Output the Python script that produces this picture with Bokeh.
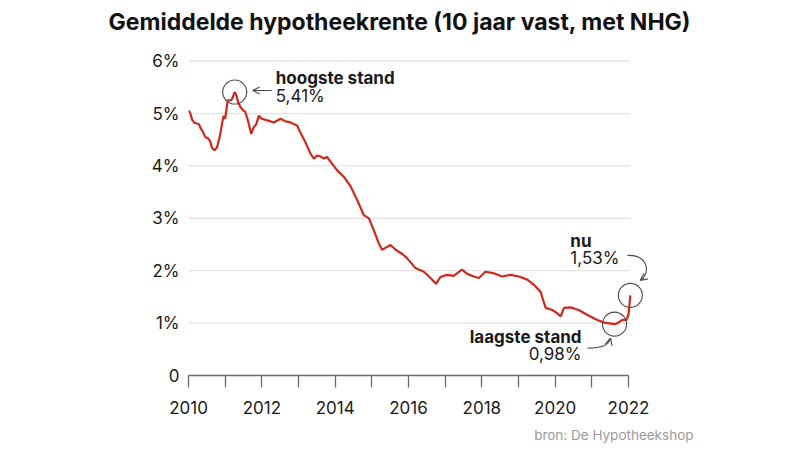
from bokeh.plotting import figure
from bokeh.models import FixedTicker, Title, Arrow, OpenHead
from bokeh.core.properties import value
from bokeh.embed import file_html
from bokeh.resources import INLINE

# ---------------- data ----------------
years = [2010.00, 2010.05, 2010.10, 2010.15, 2010.22, 2010.28, 2010.33, 2010.37, 2010.46, 2010.55,
         2010.60, 2010.65, 2010.72, 2010.78, 2010.85, 2010.92, 2010.96, 2011.00, 2011.07, 2011.15,
         2011.19, 2011.26, 2011.31, 2011.35, 2011.42, 2011.49, 2011.55, 2011.62, 2011.71, 2011.78,
         2011.85, 2011.92, 2012.00, 2012.15, 2012.33, 2012.51, 2012.65, 2012.78, 2012.96, 2013.05,
         2013.19, 2013.33, 2013.42, 2013.51, 2013.60, 2013.69, 2013.78, 2013.92, 2014.05, 2014.24,
         2014.42, 2014.60, 2014.78, 2014.92, 2015.05, 2015.19, 2015.28, 2015.38, 2015.51, 2015.65,
         2015.83, 2015.96, 2016.19, 2016.42, 2016.60, 2016.75, 2016.87, 2017.05, 2017.23, 2017.46,
         2017.60, 2017.78, 2017.92, 2018.10, 2018.33, 2018.55, 2018.78, 2019.01, 2019.24, 2019.42,
         2019.60, 2019.74, 2019.92, 2020.05, 2020.15, 2020.24, 2020.42, 2020.64, 2020.87, 2021.15,
         2021.33, 2021.62, 2021.70, 2021.83, 2021.94, 2022.00, 2022.05]
rates = [5.06, 5.00, 4.88, 4.83, 4.81, 4.80, 4.72, 4.68, 4.55, 4.52,
         4.45, 4.33, 4.30, 4.36, 4.55, 4.83, 4.96, 4.90, 5.25, 5.25,
         5.28, 5.41, 5.34, 5.22, 5.12, 5.06, 5.03, 4.87, 4.61, 4.74,
         4.80, 4.96, 4.90, 4.87, 4.83, 4.90, 4.85, 4.83, 4.77, 4.64,
         4.45, 4.23, 4.14, 4.20, 4.18, 4.14, 4.17, 4.04, 3.92, 3.79,
         3.61, 3.35, 3.06, 3.00, 2.78, 2.52, 2.40, 2.44, 2.49, 2.40,
         2.32, 2.24, 2.05, 1.98, 1.86, 1.75, 1.88, 1.92, 1.90, 2.02,
         1.94, 1.89, 1.86, 1.98, 1.95, 1.89, 1.92, 1.89, 1.83, 1.73,
         1.60, 1.29, 1.25, 1.19, 1.13, 1.29, 1.30, 1.25, 1.16, 1.06,
         1.01, 0.98, 1.00, 1.06, 1.06, 1.16, 1.53]

x_ticks = list(range(2010, 2023))
x_tick_labels = {t: (str(t) if t % 2 == 0 else "") for t in x_ticks}
y_ticks = [0, 1, 2, 3, 4, 5, 6]
y_tick_labels = {0: "0", 1: "1%", 2: "2%", 3: "3%", 4: "4%", 5: "5%", 6: "6%"}

title_text = "Gemiddelde hypotheekrente (10 jaar vast, met NHG)"
source_text = "bron: De Hypotheekshop"
high_text = "hoogste stand"
low_text = "laagste stand"
now_text = "nu"

def pct(v):
    return f"{v:.2f}".replace(".", ",") + "%"

# ---------------- layout ----------------
W, H = 800, 450
FL, FR, FT, FB = 188, 150, 40, 74
TOP_TICK_PX = 60.7          # screen y of the top (6%) gridline
X0, X1 = 2010, 2022.6
Y0 = 0
ppx = (W - FL - FR) / (X1 - X0)
ppy = (H - FB - TOP_TICK_PX) / (y_ticks[-1] - Y0)
Y1 = Y0 + (H - FB - FT) / ppy

def dx(px):
    return px / ppx

def dy(px):  # px positive = downwards on screen
    return -px / ppy

FONT = "Inter"
RED = "#d2281c"
INK = "#1a1a1a"
GREY = "#4a4a4a"

p = figure(width=W, height=H, x_range=(X0, X1), y_range=(Y0, Y1),
           output_backend="svg", toolbar_location=None,
           min_border_left=FL, min_border_right=FR, min_border_top=FT, min_border_bottom=FB)
p.outline_line_color = None
p.background_fill_color = "white"
p.border_fill_color = "white"

p.title.text = title_text
p.title.text_font = FONT
p.title.text_font_size = "23px"
p.title.text_font_style = "bold"
p.title.text_color = "#111111"
p.title.align = "left"
p.title.offset = -80
p.title.standoff = 10

src = Title(text=source_text, align="right", offset=-43, standoff=16, text_font=FONT,
            text_font_size="13.5px", text_font_style="normal", text_color="#9a9a9a")
p.add_layout(src, "below")

# grid (manual so it stops at the data end)
p.xgrid.visible = False
p.ygrid.visible = False
gy = [t for t in y_ticks if t > 0]
p.segment(x0=[X0] * len(gy), x1=[years[-1]] * len(gy), y0=gy, y1=gy,
          line_color="#e2e2e2", line_width=1.2, level="underlay")

# axes
xa = p.xaxis[0]
xa.ticker = FixedTicker(ticks=x_ticks)
xa.major_label_overrides = x_tick_labels
xa.bounds = (x_ticks[0], x_ticks[-1])
xa.axis_line_color = "#6a6a6a"
xa.axis_line_width = 1.3
xa.major_tick_line_color = "#6a6a6a"
xa.major_tick_line_width = 1.3
xa.major_tick_out = 12
xa.major_tick_in = 0
xa.minor_tick_line_color = None
xa.major_label_standoff = 13
xa.major_label_text_font = FONT
xa.major_label_text_font_size = "17px"
xa.major_label_text_color = INK

ya = p.yaxis[0]
ya.ticker = FixedTicker(ticks=y_ticks)
ya.major_label_overrides = y_tick_labels
ya.axis_line_color = None
ya.major_tick_line_color = None
ya.minor_tick_line_color = None
ya.major_tick_out = 0
ya.major_tick_in = 0
ya.major_label_standoff = 9
ya.major_label_text_font = FONT
ya.major_label_text_font_size = "17px"
ya.major_label_text_color = INK

# line
p.line(years, rates, line_color=RED, line_width=2.2)

# key points
i_hi = rates.index(max(rates))
i_lo = rates.index(min(rates))
i_now = len(rates) - 1
hx, hy = years[i_hi], rates[i_hi]
lx, ly = years[i_lo], rates[i_lo]
nx, ny = years[i_now], rates[i_now]

p.scatter([hx, lx, nx], [hy, ly, ny], marker="circle", size=24,
          fill_color=None, line_color=GREY, line_width=1.1)

# labels
def txt(x, y, t, xo, yo, bold, align):
    p.text([x], [y], text=[t], x_offset=xo, y_offset=yo,
           text_font=value(FONT), text_font_size="17px",
           text_font_style="bold" if bold else "normal",
           text_color=INK, text_align=align, text_baseline="middle")

txt(hx, hy, high_text, 41, -14, True, "left")
txt(hx, hy, pct(hy), 41, 4, False, "left")
txt(nx, ny, now_text, -60, -54, True, "left")
txt(nx, ny, pct(ny), -60, -37, False, "left")
txt(lx, ly, low_text, -33, 13, True, "right")
txt(lx, ly, pct(ly), -33, 30, False, "right")

# arrows
head = dict(size=7, line_color=GREY, line_width=1.1)
p.add_layout(Arrow(end=OpenHead(**head), x_start=hx + dx(37), y_start=hy + dy(-1.5),
                   x_end=hx + dx(18), y_end=hy + dy(-1.5), line_color=GREY, line_width=1.1))

def curved(ax, ay, s, c0, c1, e):
    p.bezier(x0=[ax + dx(s[0])], y0=[ay + dy(s[1])], x1=[ax + dx(e[0])], y1=[ay + dy(e[1])],
             cx0=[ax + dx(c0[0])], cy0=[ay + dy(c0[1])], cx1=[ax + dx(c1[0])], cy1=[ay + dy(c1[1])],
             line_color=GREY, line_width=1.1)
    tx = e[0] + 0.3 * (c1[0] - e[0])
    ty = e[1] + 0.3 * (c1[1] - e[1])
    p.add_layout(Arrow(end=OpenHead(**head), x_start=ax + dx(tx), y_start=ay + dy(ty),
                       x_end=ax + dx(e[0]), y_end=ay + dy(e[1]), line_color=GREY, line_width=1.1))

curved(nx, ny, (-3, -40), (16, -41), (22, -24), (10, -15))
curved(lx, ly, (-27, 24), (-12, 24), (-6, 21), (-4, 14))

open("out.html", "w").write(file_html(p, INLINE))
